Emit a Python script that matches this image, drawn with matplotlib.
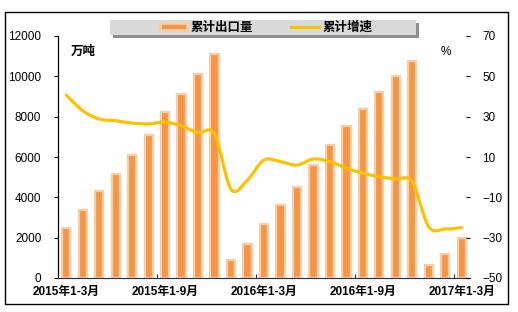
"""Cumulative export volume and cumulative growth, 2015-2017."""

import matplotlib

matplotlib.use("Agg")
import matplotlib.pyplot as plt
from matplotlib.lines import Line2D
from matplotlib.patches import PathPatch, Rectangle
from matplotlib.path import Path

plt.rcParams["font.family"] = ["Liberation Sans", "Noto Sans CJK SC", "DejaVu Sans"]

# 25 months: 2015 1-3 .. 1-12, 2016 1-1 .. 1-12, 2017 1-1 .. 1-3
PERIODS = (
    [f"2015年1-{m}月" for m in range(3, 13)]
    + [f"2016年1-{m}月" for m in range(1, 13)]
    + [f"2017年1-{m}月" for m in range(1, 4)]
)
export_volume = [
    2500, 3350, 4300, 5150, 6100, 7100, 8250, 9100, 10100, 11100,
    900, 1700, 2700, 3600, 4500, 5600, 6600, 7550, 8400, 9200, 10000, 10750,
    650, 1200, 2000,
]
growth_rate = [
    40.7, 33.0, 28.8, 28.0, 26.8, 26.4, 27.3, 25.4, 22.0, 21.4,
    -6.0, -1.4, 8.5, 7.7, 6.0, 9.0, 7.7, 4.5, 2.0, 0.2, -0.9, -2.4,
    -24.6, -25.7, -25.0,
]
LABEL_AT = [0, 6, 12, 18, 24]

BAR_FILL = "#F59646"
BAR_EDGE = "#F9CDA8"
LINE_COLOR = "#FFC000"


def smooth_path(xs, ys):
    """Bezier path through the points, like a smoothed Excel line."""
    pts = list(zip(xs, ys))
    verts = [pts[0]]
    codes = [Path.MOVETO]
    n = len(pts)
    for i in range(n - 1):
        p0 = pts[i - 1] if i > 0 else pts[i]
        p1, p2 = pts[i], pts[i + 1]
        p3 = pts[i + 2] if i + 2 < n else pts[i + 1]
        c1 = (p1[0] + (p2[0] - p0[0]) / 6, p1[1] + (p2[1] - p0[1]) / 6)
        c2 = (p2[0] - (p3[0] - p1[0]) / 6, p2[1] - (p3[1] - p1[1]) / 6)
        verts += [c1, c2, p2]
        codes += [Path.CURVE4] * 3
    return Path(verts, codes)


fig = plt.figure(figsize=(5.18, 3.12), dpi=100)
fig.patch.set_facecolor("white")

# outer frame
fig.patches.append(Rectangle((5 / 518, 1 - 304 / 312), 503 / 518, 292 / 312,
                             transform=fig.transFigure, fill=False,
                             edgecolor="black", linewidth=1))

ax = fig.add_axes([58 / 518, 1 - 278 / 312, 412 / 518, 242 / 312])
ax2 = ax.twinx()

x = list(range(len(PERIODS)))
ax.bar(x, export_volume, width=0.5, color=BAR_FILL, edgecolor=BAR_EDGE,
       linewidth=1.6, zorder=2)
ax.set_xlim(-0.5, len(PERIODS) - 0.5)
ax.set_ylim(0, 12000)
ax.set_yticks(range(0, 12001, 2000))

ax2.add_patch(PathPatch(smooth_path(x, growth_rate), fill=False,
                        edgecolor=LINE_COLOR, linewidth=2.3, capstyle="round",
                        zorder=3))
ax2.set_ylim(-50, 70)
ax2.set_yticks(range(-50, 71, 20))

# x axis: boundary ticks every 6 months, labels on the bars
ax.set_xticks([i + 5.5 for i in LABEL_AT[:-1]])
ax.set_xticklabels([])
ax.set_xticks(LABEL_AT, minor=True)
ax.set_xticklabels([PERIODS[i] for i in LABEL_AT], minor=True,
                   fontweight="bold", fontsize=8.5)
ax.tick_params(axis="x", which="major", direction="in", length=3,
               color="#1F2A60")
ax.tick_params(axis="x", which="minor", length=0, pad=6)
ax.tick_params(axis="y", direction="out", length=3, labelsize=8.5, pad=9)
ax2.tick_params(axis="y", direction="in", length=3, labelsize=8.5, pad=9)

for side in ("top", "right"):
    ax.spines[side].set_visible(False)
for side in ("top", "right", "left", "bottom"):
    ax2.spines[side].set_visible(False)
ax.spines["bottom"].set_color("#1F2A60")
ax.spines["left"].set_linewidth(0.9)

ax.text(0.03, 0.96, "万吨", transform=ax.transAxes, fontsize=9,
        fontweight="bold", va="top", ha="left")
ax2.text(0.955, 0.96, "%", transform=ax2.transAxes, fontsize=8.5,
         va="top", ha="right")

# legend on a grey band with a drop shadow
fig.patches.append(Rectangle((113 / 518, 1 - 38 / 312), 306 / 518, 15 / 312,
                             transform=fig.transFigure, facecolor="#8C8C8C",
                             edgecolor="none"))
fig.patches.append(Rectangle((110 / 518, 1 - 35 / 312), 306 / 518, 15 / 312,
                             transform=fig.transFigure, facecolor="#D9D9D9",
                             edgecolor="none"))
handles = [
    Rectangle((0, 0), 1, 1, facecolor=BAR_FILL, edgecolor=BAR_EDGE,
              linewidth=2.0),
    Line2D([], [], color=LINE_COLOR, linewidth=2.3),
]
fig.legend(handles, ["累计出口量", "累计增速"], loc="center",
           bbox_to_anchor=(266 / 518, 1 - 27.5 / 312), ncol=2, frameon=False,
           prop={"weight": "bold", "size": 9}, handlelength=2.2,
           handleheight=0.5, handletextpad=0.3, columnspacing=3.0,
           borderpad=0)

fig.savefig("out.png", dpi=100)
